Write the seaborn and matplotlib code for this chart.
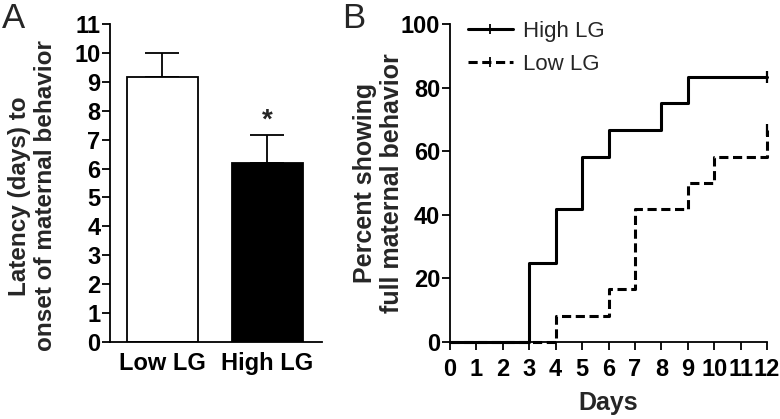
import numpy as np
import pandas as pd
import matplotlib
matplotlib.use("Agg")
import matplotlib.pyplot as plt
from matplotlib.lines import Line2D
import seaborn as sns

# ── Data ──────────────────────────────────────────────────────
groups = ["Low LG", "High LG"]
latency_mean = [9.17, 6.2]
latency_sem = [0.83, 0.95]

high_days = [0, 3, 4, 5, 6, 8, 9, 12]
high_pct = [0, 25.0, 41.7, 58.3, 66.7, 75.0, 83.3, 83.3]
low_days = [0, 4, 6, 7, 9, 10, 12]
low_pct = [0, 8.3, 16.7, 41.7, 50.0, 58.3, 66.7]

# ── Style ─────────────────────────────────────────────────────
sns.set_style("ticks")
plt.rcParams["font.family"] = ["Liberation Sans", "DejaVu Sans"]
plt.rcParams.update({
    "axes.linewidth": 1.3,
    "xtick.major.width": 1.3,
    "ytick.major.width": 1.3,
    "xtick.major.size": 5.5,
    "ytick.major.size": 5.5,
    "xtick.color": "black",
    "ytick.color": "black",
    "axes.edgecolor": "black",
})
TICK_FS = 17
LABEL_FS = 18

fig = plt.figure(figsize=(7.8, 4.19), dpi=100)

# ── Panel A: bar chart ───────────────────────────────────────
axA = fig.add_axes([110 / 780, 77 / 419, 212 / 780, 318 / 419])
sns.barplot(x=groups, y=latency_mean, hue=groups, palette=["white", "black"],
            edgecolor="black", linewidth=1.3, width=0.68, legend=False,
            errorbar=None, ax=axA)
axA.errorbar([0, 1], latency_mean, yerr=[[0, 0], latency_sem], fmt="none",
             ecolor="black", elinewidth=1.3, capsize=12, capthick=1.3, zorder=0)
axA.text(1, latency_mean[1] + latency_sem[1] + 0.05, "*", ha="center", va="bottom",
         fontsize=20, fontweight="bold")
axA.set_ylim(0, 11)
axA.set_xlim(-0.5, 1.52)
axA.set_yticks(range(0, 12))
axA.tick_params(axis="x", length=0, pad=7)
axA.tick_params(axis="y", pad=1.5)
axA.set_ylabel("Latency (days) to\nonset of maternal behavior",
               fontsize=17.5, fontweight="bold", linespacing=1.18)
axA.yaxis.set_label_coords(-0.25, 0.46)
for lbl in axA.get_xticklabels() + axA.get_yticklabels():
    lbl.set_fontweight("bold")
    lbl.set_fontsize(TICK_FS)
sns.despine(ax=axA)

# ── Panel B: step curves ─────────────────────────────────────
axB = fig.add_axes([450 / 780, 77 / 419, 317 / 780, 318 / 419])
df_high = pd.DataFrame({"Days": high_days, "Pct": high_pct})
df_low = pd.DataFrame({"Days": low_days, "Pct": low_pct})
sns.lineplot(data=df_high, x="Days", y="Pct", drawstyle="steps-post",
             color="black", lw=2.2, ax=axB, zorder=4, clip_on=False)
sns.lineplot(data=df_low, x="Days", y="Pct", drawstyle="steps-post",
             color="black", lw=2.2, ax=axB, zorder=3, clip_on=False)
axB.lines[1].set_dashes([3, 1.5])
axB.plot(high_days[-1], high_pct[-1], marker="|", ms=9, mew=1.6, color="black",
         clip_on=False, zorder=5)
axB.plot(low_days[-1], low_pct[-1], marker="|", ms=9, mew=1.6, color="black",
         clip_on=False, zorder=5)
axB.set_xlim(0, 12)
axB.set_ylim(0, 100)
axB.set_xticks(range(0, 13))
axB.set_yticks(range(0, 101, 20))
axB.tick_params(axis="x", pad=6)
axB.tick_params(axis="y", pad=1.5)
axB.set_xlabel("Days", fontsize=LABEL_FS, fontweight="bold")
axB.xaxis.set_label_coords(0.5, -0.155)
axB.set_ylabel("Percent showing\nfull maternal behavior",
               fontsize=LABEL_FS, fontweight="bold", linespacing=1.15)
axB.yaxis.set_label_coords(-0.146, 0.5)
for lbl in axB.get_xticklabels() + axB.get_yticklabels():
    lbl.set_fontweight("bold")
    lbl.set_fontsize(TICK_FS)
sns.despine(ax=axB)

handles = [
    Line2D([0], [0], color="black", lw=2.2, marker="|", ms=7, mew=1.3),
    Line2D([0], [0], color="black", lw=2.2, ls=(0, (3, 1.5)), marker="|",
           ms=7, mew=1.3),
]
axB.legend(handles, ["High LG", "Low LG"], loc="upper left", frameon=False,
           fontsize=16, handlelength=2.0, handletextpad=0.45, borderpad=0,
           borderaxespad=0.0, bbox_to_anchor=(0.057, 1.01), labelspacing=0.55)

# Panel letters
fig.text(2 / 780, 1 - 19 / 419, "A", fontsize=25, va="center", ha="left")
fig.text(342 / 780, 1 - 19 / 419, "B", fontsize=25, va="center", ha="left")

fig.savefig("out.png", dpi=100)
